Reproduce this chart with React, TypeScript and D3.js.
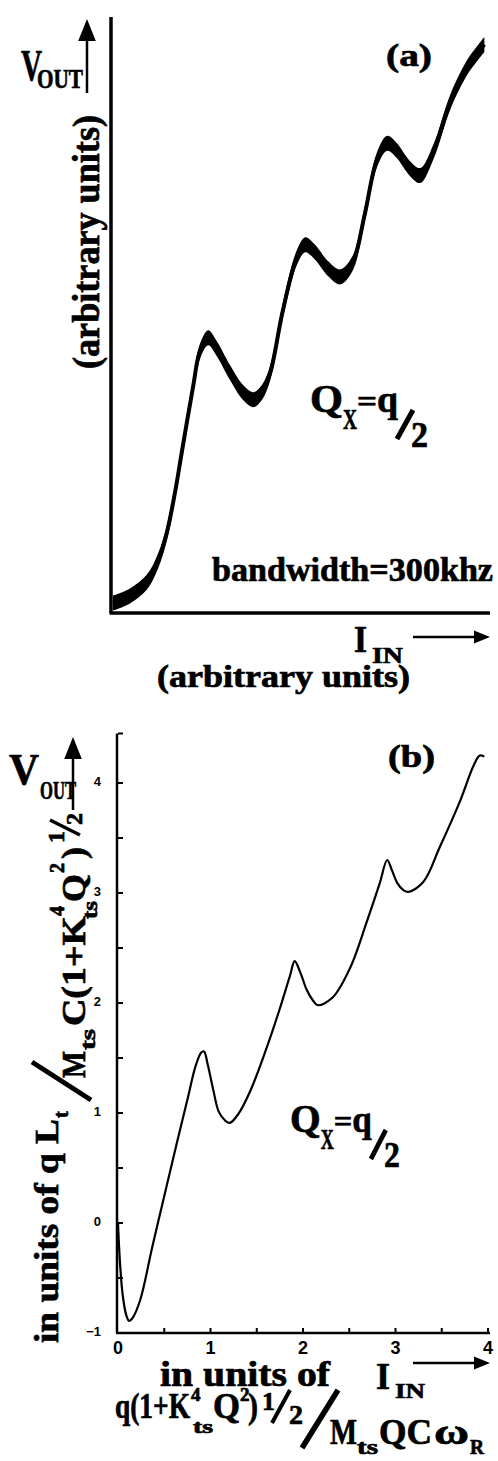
import * as d3 from "d3";

// (a) measured trace, arbitrary units
const inA = [0, 0.18, 0.36, 0.48, 0.57, 0.66, 0.73, 0.85, 0.92, 1.01, 1.1, 1.24, 1.38, 1.49, 1.58, 1.67, 1.8, 1.95, 2.04, 2.14, 2.28, 2.41, 2.54, 2.67, 2.8, 2.91, 3.01, 3.15, 3.26, 3.4, 3.58, 3.76, 3.86, 3.94];
const outA = [0.084, 0.143, 0.26, 0.44, 0.67, 1.02, 1.35, 1.9, 2.19, 2.31, 2.22, 2.02, 1.85, 1.79, 1.85, 2.02, 2.53, 2.98, 3.09, 3.03, 2.89, 2.82, 2.93, 3.34, 3.8, 3.94, 3.88, 3.73, 3.67, 3.87, 4.29, 4.58, 4.69, 4.77];

// (b) computed response
const inB = [0, 0.02, 0.05, 0.09, 0.12, 0.16, 0.24, 0.37, 0.51, 0.64, 0.75, 0.84, 0.9, 0.93, 0.97, 1.03, 1.09, 1.16, 1.21, 1.3, 1.43, 1.61, 1.75, 1.86, 1.91, 1.97, 2.04, 2.11, 2.16, 2.32, 2.51, 2.69, 2.83, 2.91, 2.96, 3.02, 3.08, 3.14, 3.3, 3.48, 3.7, 3.84, 3.91, 3.96];
const outB = [0, -0.34, -0.65, -0.84, -0.89, -0.86, -0.7, -0.22, 0.28, 0.74, 1.12, 1.43, 1.55, 1.56, 1.44, 1.21, 1.01, 0.93, 0.91, 0.99, 1.2, 1.6, 1.95, 2.25, 2.38, 2.28, 2.12, 2.02, 1.98, 2.05, 2.32, 2.74, 3.09, 3.3, 3.21, 3.09, 3.03, 3.01, 3.1, 3.42, 3.84, 4.15, 4.25, 4.24];

const xTicksB = [0, 1, 2, 3, 4];
const yTicksB = [-1, 0, 1, 2, 3, 4];

type P = { x: number; y: number };

const SERIF = "'Liberation Serif', 'Times New Roman', serif";
const SANS = "'Liberation Sans', Arial, sans-serif";
const TXT = { fontFamily: SERIF, fontWeight: 700, fill: "#000", stroke: "#000", strokeWidth: 0.7 } as const;

function QX({ x, y, sx = 1 }: { x: number; y: number; sx?: number }) {
  return (
    <g transform={`translate(${x},${y}) scale(${sx},1)`} {...TXT}>
      <text x={0} y={0} fontSize={40} textLength={33} lengthAdjust="spacingAndGlyphs">Q</text>
      <text x={33} y={17} fontSize={30} textLength={14} lengthAdjust="spacingAndGlyphs">X</text>
      <text x={47} y={0} fontSize={32} textLength={20} lengthAdjust="spacingAndGlyphs">=</text>
      <text x={67} y={0} fontSize={38} textLength={21} lengthAdjust="spacingAndGlyphs">q</text>
      <line x1={87} y1={27} x2={103} y2={-2} stroke="#000" strokeWidth={5} />
      <text x={101} y={35} fontSize={36} textLength={17} lengthAdjust="spacingAndGlyphs">2</text>
    </g>
  );
}

function Arrow({ x1, y1, x2, y2, w = 2.5, head = 14 }: { x1: number; y1: number; x2: number; y2: number; w?: number; head?: number }) {
  const a = Math.atan2(y2 - y1, x2 - x1);
  const bx = x2 - head * Math.cos(a), by = y2 - head * Math.sin(a);
  const nx = -Math.sin(a) * head * 0.4, ny = Math.cos(a) * head * 0.4;
  return (
    <g>
      <line x1={x1} y1={y1} x2={bx} y2={by} stroke="#000" strokeWidth={w} />
      <polygon points={`${x2},${y2} ${bx + nx},${by + ny} ${bx - nx},${by - ny}`} fill="#000" />
    </g>
  );
}

export default function App() {
  const W = 498, H = 1461;

  const xA = d3.scaleLinear().domain([0, 4]).range([113, 490]);
  const yA = d3.scaleLinear().domain([0, 5]).range([613, 17]);
  const xB = d3.scaleLinear().domain([0, 4]).range([118, 488]);
  const yB = d3.scaleLinear().domain([-1, 4]).range([1333, 783]);

  const ptsA: P[] = inA.map((x, i) => ({ x, y: outA[i] }));
  const ptsB: P[] = inB.map((x, i) => ({ x, y: outB[i] }));

  // noisy trace in (a) drawn as a band
  const band = d3.area<P>()
    .x((d) => xA(d.x))
    .y0((d) => yA(d.y) + 7.5)
    .y1((d) => yA(d.y) - 7.5)
    .curve(d3.curveCatmullRom.alpha(0.5));
  const lineA = d3.line<P>().x((d) => xA(d.x)).y((d) => yA(d.y)).curve(d3.curveCatmullRom.alpha(0.5));
  const lineB = d3.line<P>().x((d) => xB(d.x)).y((d) => yB(d.y)).curve(d3.curveCatmullRom.alpha(0.5));

  const yTopB = yB(4.45);
  const minorX = d3.range(0.5, 4.01, 0.5);
  const minorY = d3.range(-0.5, 4.01, 0.5).concat([4.45]);
  const fmt = d3.format("d");

  return (
    <svg width={W} height={H} viewBox={`0 0 ${W} ${H}`} style={{ position: "absolute", left: 0, top: 0, background: "#fff" }}>
      <rect width={W} height={H} fill="#fff" />

      {/* ---------- (a) ---------- */}
      <line x1={xA(0) - 2} y1={yA(5)} x2={xA(0) - 2} y2={yA(0)} stroke="#000" strokeWidth={3.5} />
      <line x1={xA(0) - 3.5} y1={yA(0)} x2={xA(4)} y2={yA(0)} stroke="#000" strokeWidth={3.5} />
      <path d={band(ptsA) || ""} fill="#000" />
      <path d={lineA(ptsA) || ""} fill="none" stroke="#000" strokeWidth={4} />

      <g {...TXT}>
        <text x={386} y={66} fontSize={32} textLength={46} lengthAdjust="spacingAndGlyphs">(a)</text>
        <text x={21} y={80} fontSize={44} textLength={21} lengthAdjust="spacingAndGlyphs">V</text>
        <text x={37} y={88} fontSize={28} textLength={46} lengthAdjust="spacingAndGlyphs">OUT</text>
        <g transform="translate(99,369) rotate(-90)">
          <text x={0} y={0} fontSize={38} textLength={254} lengthAdjust="spacingAndGlyphs">(arbitrary units)</text>
        </g>
        <text x={212} y={581} fontSize={34} textLength={281} lengthAdjust="spacingAndGlyphs">bandwidth=300khz</text>
        <text x={354} y={652} fontSize={38} textLength={13} lengthAdjust="spacingAndGlyphs">I</text>
        <text x={372} y={663} fontSize={24} textLength={31} lengthAdjust="spacingAndGlyphs">IN</text>
        <text x={157} y={687} fontSize={31} textLength={253} lengthAdjust="spacingAndGlyphs">(arbitrary units)</text>
      </g>
      <Arrow x1={87} y1={93} x2={87} y2={19} w={2.5} head={22} />
      <Arrow x1={413} y1={637} x2={490} y2={637} w={2.5} head={16} />
      <QX x={310} y={412} />

      {/* ---------- (b) ---------- */}
      <line x1={xB(0) - 1} y1={yTopB} x2={xB(0) - 1} y2={yB(-1)} stroke="#000" strokeWidth={2.5} />
      <line x1={xB(0) - 2} y1={yB(-1)} x2={xB(4) + 2} y2={yB(-1)} stroke="#000" strokeWidth={2.5} />
      {minorY.map((v) => (
        <line key={"yt" + v} x1={xB(0)} x2={xB(0) + 5} y1={yB(v)} y2={yB(v)} stroke="#000" strokeWidth={2} />
      ))}
      {minorX.map((v) => (
        <line key={"xt" + v} x1={xB(v)} x2={xB(v)} y1={yB(-1)} y2={yB(-1) - 5} stroke="#000" strokeWidth={2} />
      ))}
      <g fontFamily={SANS} fontWeight={700} fill="#000">
        {yTicksB.map((v) => (
          <text key={"yl" + v} x={101} y={yB(v)} fontSize={13} textAnchor="end" dominantBaseline="middle">{fmt(v)}</text>
        ))}
        {xTicksB.map((v) => (
          <text key={"xl" + v} x={xB(v)} y={1354} fontSize={18} textAnchor="middle">{fmt(v)}</text>
        ))}
      </g>
      <path d={lineB(ptsB) || ""} fill="none" stroke="#000" strokeWidth={2.2} />

      <g {...TXT}>
        <text x={388} y={767} fontSize={32} textLength={47} lengthAdjust="spacingAndGlyphs">(b)</text>
        <text x={9} y={784} fontSize={44} textLength={30} lengthAdjust="spacingAndGlyphs">V</text>
        <text x={40} y={799} fontSize={26} textLength={36} lengthAdjust="spacingAndGlyphs">OUT</text>

        {/* rotated y label of (b) */}
        <g transform="translate(58,1343) rotate(-90)">
          <text x={0} y={0} fontSize={34} textLength={224} lengthAdjust="spacingAndGlyphs">in units of q L</text>
          <text x={225} y={10} fontSize={20}>t</text>
          <line x1={243} y1={33} x2={281} y2={-26} stroke="#000" strokeWidth={5} />
          <text x={265} y={27} fontSize={34} textLength={27} lengthAdjust="spacingAndGlyphs">M</text>
          <text x={293} y={37} fontSize={20} textLength={21} lengthAdjust="spacingAndGlyphs">ts</text>
          <text x={317} y={27} fontSize={34} textLength={110} lengthAdjust="spacingAndGlyphs">C(1+K</text>
          <text x={427} y={6} fontSize={20}>4</text>
          <text x={424} y={39} fontSize={20} textLength={18} lengthAdjust="spacingAndGlyphs">ts</text>
          <text x={441} y={27} fontSize={34} textLength={28} lengthAdjust="spacingAndGlyphs">Q</text>
          <text x={470} y={6} fontSize={20}>2</text>
          <text x={484} y={27} fontSize={34} textLength={12} lengthAdjust="spacingAndGlyphs">)</text>
          <text x={500} y={6} fontSize={24}>1</text>
          <line x1={508} y1={22} x2={523} y2={-8} stroke="#000" strokeWidth={3.5} />
          <text x={518} y={24} fontSize={24}>2</text>
        </g>

        {/* x label of (b) */}
        <text x={160} y={1386} fontSize={35} textLength={170} lengthAdjust="spacingAndGlyphs">in units of</text>
        <text x={115} y={1418} fontSize={35} textLength={75} lengthAdjust="spacingAndGlyphs">q(1+K</text>
        <text x={191} y={1401} fontSize={19}>4</text>
        <text x={193} y={1433} fontSize={19} textLength={20} lengthAdjust="spacingAndGlyphs">ts</text>
        <text x={213} y={1418} fontSize={35} textLength={27} lengthAdjust="spacingAndGlyphs">Q</text>
        <text x={240} y={1401} fontSize={19}>2</text>
        <text x={248} y={1418} fontSize={35} textLength={10} lengthAdjust="spacingAndGlyphs">)</text>
        <text x={262} y={1410} fontSize={26}>1</text>
        <line x1={272} y1={1423} x2={290} y2={1390} stroke="#000" strokeWidth={4} />
        <text x={289} y={1424} fontSize={28}>2</text>
        <line x1={302} y1={1448} x2={338} y2={1390} stroke="#000" strokeWidth={5.5} />
        <text x={330} y={1444} fontSize={35} textLength={27} lengthAdjust="spacingAndGlyphs">M</text>
        <text x={357} y={1454} fontSize={20} textLength={21} lengthAdjust="spacingAndGlyphs">ts</text>
        <text x={379} y={1444} fontSize={35} textLength={53} lengthAdjust="spacingAndGlyphs">QC</text>
        <text x={434} y={1444} fontSize={35} textLength={35} lengthAdjust="spacingAndGlyphs">ω</text>
        <text x={470} y={1454} fontSize={20} textLength={14} lengthAdjust="spacingAndGlyphs">R</text>

        <text x={376} y={1389} fontSize={38} textLength={14} lengthAdjust="spacingAndGlyphs">I</text>
        <text x={395} y={1398} fontSize={22} textLength={30} lengthAdjust="spacingAndGlyphs">IN</text>
      </g>
      <Arrow x1={73} y1={810} x2={73} y2={737} w={2.5} head={22} />
      <Arrow x1={413} y1={1363} x2={490} y2={1363} w={2.5} head={16} />
      <QX x={290} y={1132} sx={0.93} />
    </svg>
  );
}
